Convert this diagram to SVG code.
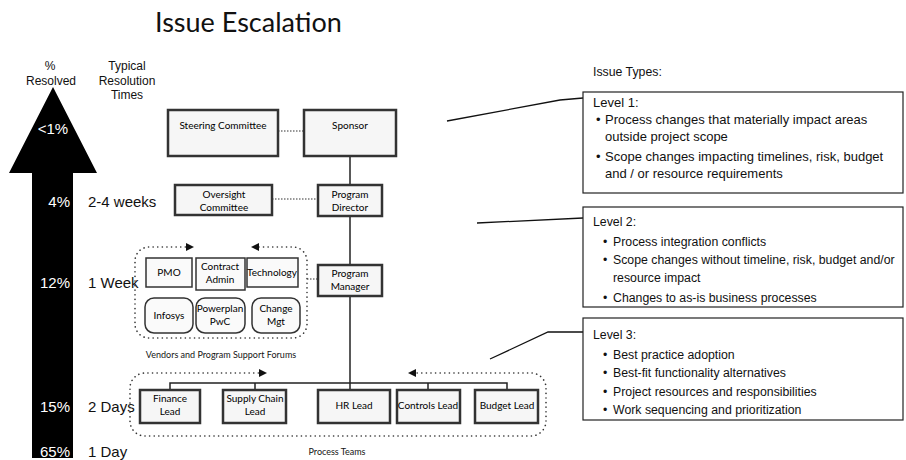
<svg xmlns="http://www.w3.org/2000/svg" width="906" height="460" viewBox="0 0 906 460">
<defs>
<style>
.box{fill:#f6f6f6;stroke:#333;stroke-width:2.5}
.vbox{fill:#fafafa;stroke:#333;stroke-width:1.5}
.bt{font-family:Lato,"Open Sans",sans-serif;font-size:10px;fill:#000;text-anchor:middle}
.lbl{font-family:"Liberation Sans",Arial,sans-serif;fill:#111}
.pct{font-family:"Liberation Sans",Arial,sans-serif;font-size:15px;fill:#fff;text-anchor:end}
.tm{font-family:"Liberation Sans",Arial,sans-serif;font-size:15px;fill:#111}
.it{font-family:"Liberation Sans",Arial,sans-serif;font-size:12.3px;fill:#111}
.it1{font-family:"Liberation Sans",Arial,sans-serif;font-size:13px;fill:#111}
.lvl{fill:#fff;stroke:#222;stroke-width:1.2}
.solid{stroke:#222;stroke-width:1.5;fill:none}
.dot{stroke:#333;stroke-width:1.2;fill:none;stroke-dasharray:1.5 1.5}
.grp{stroke:#333;stroke-width:1.6;fill:none;stroke-dasharray:0.1 4.5;stroke-linecap:round}
.lead{stroke:#111;stroke-width:1.3;fill:none}
</style>
</defs>
<rect width="906" height="460" fill="#fff"/>

<text x="155" y="32" font-family="Lato,'Open Sans',sans-serif" font-size="27" fill="#111">Issue Escalation</text>

<g id="scale-arrow">
<path d="M53,87 L97,173 L73,173 L73,458 L32,458 L32,173 L9,173 Z" fill="#000"/>
<text class="lbl" x="50" y="70" font-size="12" text-anchor="middle">%</text>
<text class="lbl" x="51" y="85" font-size="12" text-anchor="middle">Resolved</text>
<text class="lbl" x="127" y="70" font-size="12" text-anchor="middle">Typical</text>
<text class="lbl" x="127" y="85" font-size="12" text-anchor="middle">Resolution</text>
<text class="lbl" x="127" y="99" font-size="12" text-anchor="middle">Times</text>
<text x="53" y="134" font-family="'Liberation Sans',Arial,sans-serif" font-size="15" fill="#fff" text-anchor="middle">&lt;1%</text>
<text class="pct" x="70" y="207">4%</text>
<text class="pct" x="70" y="288">12%</text>
<text class="pct" x="70" y="412">15%</text>
<text class="pct" x="70" y="457">65%</text>
<text class="tm" x="88" y="207">2-4 weeks</text>
<text class="tm" x="88" y="288">1 Week</text>
<text class="tm" x="88" y="412">2 Days</text>
<text class="tm" x="88" y="457">1 Day</text>
</g>

<g id="connectors">
<line class="dot" x1="278" y1="131" x2="304" y2="131"/>
<line class="solid" x1="350" y1="156" x2="350" y2="185"/>
<line class="dot" x1="272" y1="199" x2="318" y2="199"/>
<line class="solid" x1="350" y1="216" x2="350" y2="265"/>
<line class="dot" x1="307" y1="279" x2="318" y2="279"/>
<line class="solid" x1="350" y1="296" x2="350" y2="383"/>
<path class="solid" d="M170,390 V383 H507 V390 M255,383 V390 M350,383 V390 M428,383 V390"/>
<path class="lead" d="M447,121 L560,100 L583,98"/>
<path class="lead" d="M477,223 L583,218"/>
<path class="lead" d="M490,359 L548,332 L583,332"/>
</g>

<g id="vendors-group">
<path class="grp" d="M190,247 H149 A14,14 0 0 0 135,261 V324 A14,14 0 0 0 149,338 H293 A14,14 0 0 0 307,324 V261 A14,14 0 0 0 293,247 H255"/>
<polygon points="186,243 194,247 186,251" fill="#111"/>
<polygon points="259,243 251,247 259,251" fill="#111"/>
<text x="221" y="358" font-family="Lato,'Open Sans',sans-serif" font-size="9" fill="#151515" text-anchor="middle">Vendors and Program Support Forums</text>
</g>

<g id="process-teams-group">
<path class="grp" d="M263,373 H145 A15,15 0 0 0 130,388 V421 A15,15 0 0 0 145,436 H531 A15,15 0 0 0 546,421 V388 A15,15 0 0 0 531,373 H412"/>
<polygon points="259,369 267,373 259,377" fill="#111"/>
<polygon points="416,369 408,373 416,377" fill="#111"/>
<text x="337" y="455" font-family="Lato,'Open Sans',sans-serif" font-size="9" fill="#151515" text-anchor="middle">Process Teams</text>
</g>

<g id="steering-committee"><rect class="box" x="168" y="110" width="110" height="46"/><text class="bt" x="223" y="129">Steering Committee</text></g>
<g id="sponsor"><rect class="box" x="304" y="110" width="92" height="46"/><text class="bt" x="350" y="129">Sponsor</text></g>
<g id="oversight-committee"><rect class="box" x="175" y="185" width="97" height="30"/><text class="bt" x="224" y="198">Oversight</text><text class="bt" x="224" y="211">Committee</text></g>
<g id="program-director"><rect class="box" x="318" y="185" width="64" height="31"/><text class="bt" x="350" y="198">Program</text><text class="bt" x="350" y="211">Director</text></g>
<g id="program-manager"><rect class="box" x="318" y="265" width="64" height="31"/><text class="bt" x="350" y="277">Program</text><text class="bt" x="350" y="290">Manager</text></g>

<g id="pmo"><rect class="vbox" x="146" y="258" width="46" height="29"/><text class="bt" x="169" y="276">PMO</text></g>
<g id="contract-admin"><rect class="vbox" x="196" y="258" width="49" height="32"/><text class="bt" x="220" y="270">Contract</text><text class="bt" x="220" y="283">Admin</text></g>
<g id="technology"><rect class="vbox" x="247" y="258" width="51" height="29"/><text class="bt" x="272" y="276">Technology</text></g>
<g id="infosys"><rect class="vbox" x="145" y="298" width="48" height="35" rx="9"/><text class="bt" x="169" y="319">Infosys</text></g>
<g id="powerplan-pwc"><rect class="vbox" x="196" y="298" width="49" height="35" rx="9"/><text class="bt" x="220" y="312">Powerplan</text><text class="bt" x="220" y="325">PwC</text></g>
<g id="change-mgt"><rect class="vbox" x="252" y="298" width="48" height="35" rx="9"/><text class="bt" x="276" y="312">Change</text><text class="bt" x="276" y="325">Mgt</text></g>

<g id="finance-lead"><rect class="box" x="140" y="390" width="60" height="33"/><text class="bt" x="170" y="402">Finance</text><text class="bt" x="170" y="415">Lead</text></g>
<g id="supply-chain-lead"><rect class="box" x="223" y="390" width="63" height="33"/><text class="bt" x="255" y="402">Supply Chain</text><text class="bt" x="255" y="415">Lead</text></g>
<g id="hr-lead"><rect class="box" x="318" y="390" width="72" height="33"/><text class="bt" x="354" y="409">HR Lead</text></g>
<g id="controls-lead"><rect class="box" x="397" y="390" width="63" height="33"/><text class="bt" x="428" y="409">Controls Lead</text></g>
<g id="budget-lead"><rect class="box" x="475" y="390" width="63" height="33"/><text class="bt" x="507" y="409">Budget Lead</text></g>

<g id="issue-types">
<text class="it" x="593" y="76" font-size="11.5">Issue Types:</text>
</g>
<g id="level-1">
<rect class="lvl" x="583" y="92" width="320" height="101"/>
<text class="it1" x="593" y="107">Level 1:</text>
<text class="it1" x="596" y="124">•</text><text class="it1" x="605" y="124">Process changes that materially impact areas</text>
<text class="it1" x="605" y="141">outside project scope</text>
<text class="it1" x="596" y="161">•</text><text class="it1" x="605" y="161">Scope changes impacting timelines, risk, budget</text>
<text class="it1" x="605" y="178">and / or resource requirements</text>
</g>
<g id="level-2">
<rect class="lvl" x="583" y="207" width="320" height="100"/>
<text class="it" x="593" y="226">Level 2:</text>
<text class="it" x="603" y="246">•</text><text class="it" x="613" y="246">Process integration conflicts</text>
<text class="it" x="603" y="264">•</text><text class="it" x="613" y="264">Scope changes without timeline, risk, budget and/or</text>
<text class="it" x="613" y="282">resource impact</text>
<text class="it" x="603" y="302">•</text><text class="it" x="613" y="302">Changes to as-is business processes</text>
</g>
<g id="level-3">
<rect class="lvl" x="583" y="318" width="320" height="102"/>
<text class="it" x="593" y="339">Level 3:</text>
<text class="it" x="603" y="359">•</text><text class="it" x="613" y="359">Best practice adoption</text>
<text class="it" x="603" y="377">•</text><text class="it" x="613" y="377">Best-fit functionality alternatives</text>
<text class="it" x="603" y="396">•</text><text class="it" x="613" y="396">Project resources and responsibilities</text>
<text class="it" x="603" y="414">•</text><text class="it" x="613" y="414">Work sequencing and prioritization</text>
</g>
</svg>
